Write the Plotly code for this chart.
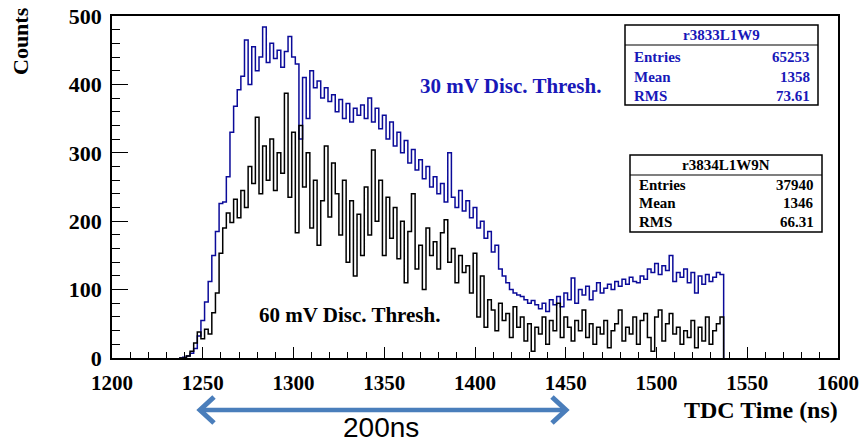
import numpy as np
import plotly.graph_objects as go

# ---------------- data ----------------
bin_start = 1237
bin_width = 2

counts_30mV = [
    0, 1, 3, 7, 14, 32, 55, 82, 112, 150,
    185, 226, 228, 265, 330, 368, 392, 412, 465, 400,
    455, 420, 440, 484, 432, 460, 438, 450, 425, 448,
    470, 440, 430, 320, 410, 350, 420, 395, 405, 380,
    395, 375, 385, 360, 378, 350, 372, 345, 365, 355,
    370, 350, 380, 345, 365, 335, 355, 320, 345, 310,
    330, 300, 318, 285, 305, 275, 290, 262, 280, 250,
    265, 240, 255, 228, 300, 235, 220, 245, 215, 230,
    205, 220, 190, 200, 175, 185, 155, 165, 130, 120,
    110, 100, 95, 92, 90, 85, 80, 84, 78, 72,
    80, 68, 85, 78, 90, 75, 95, 85, 117, 80,
    100, 92, 105, 85, 98, 110, 95, 102, 108, 100,
    112, 105, 115, 108, 118, 112, 110, 120, 115, 130,
    125, 138, 122, 135, 128, 150, 112, 125, 118, 130,
    110, 125, 95, 120, 108, 122, 112, 118, 125, 122,
]

counts_60mV = [
    0, 0, 3, 10, 22, 38, 28, 42, 35, 66,
    95, 153, 190, 212, 198, 232, 205, 245, 220, 280,
    255, 352, 240, 310, 260, 320, 245, 300, 270, 387,
    235, 330, 183, 340, 250, 300, 190, 260, 165, 230,
    310, 206, 285, 240, 180, 260, 140, 230, 120, 210,
    150, 250, 180, 304, 200, 260, 150, 235, 175, 220,
    145, 200, 110, 185, 240, 130, 165, 100, 190, 150,
    170, 130, 183, 202, 140, 160, 110, 150, 125, 135,
    95, 153, 60, 120, 45, 85, 70, 40, 80, 55,
    65, 30, 75, 45, 60, 25, 50, 10, 45, 35,
    60, 20, 55, 40, 80, 30, 60, 45, 25, 55,
    40, 70, 30, 50, 20, 45, 35, 55, 15, 40,
    50, 70, 25, 45, 35, 60, 20, 55, 65, 30,
    10, 60, 70, 25, 50, 65, 35, 45, 20, 40,
    30, 55, 15, 45, 25, 60, 20, 40, 50, 60,
]

x_ticks = [1200, 1250, 1300, 1350, 1400, 1450, 1500, 1550, 1600]
y_ticks = [0, 100, 200, 300, 400, 500]

stats_30 = {"name": "r3833L1W9", "Entries": "65253", "Mean": "1358", "RMS": "73.61"}
stats_60 = {"name": "r3834L1W9N", "Entries": "37940", "Mean": "1346", "RMS": "66.31"}

label_30 = "30 mV Disc. Thresh."
label_60 = "60 mV Disc. Thresh."
span_label = "200ns"

# ---------------- layout geometry (pixels) ----------------
W, H = 859, 444
L, R, T, B = 112, 838, 16, 358


def X(px):
    return (px - L) / (R - L)


def Y(py):
    return (B - py) / (B - T)


BLUE_LINE = "#0b0b99"
BLUE_TEXT = "#1818b8"
ARROW = "#4a7ebb"
SERIF = "Liberation Serif"


def step_xy(vals):
    edges = bin_start + bin_width * np.arange(len(vals) + 1)
    return list(edges), list(vals) + [0]


fig = go.Figure()
xb, yb = step_xy(counts_30mV)
fig.add_trace(go.Scatter(x=xb, y=yb, mode="lines", line=dict(shape="hv", color=BLUE_LINE, width=1.5),
                         showlegend=False, hoverinfo="skip"))
xk, yk = step_xy(counts_60mV)
fig.add_trace(go.Scatter(x=xk, y=yk, mode="lines", line=dict(shape="hv", color="black", width=1.5),
                         showlegend=False, hoverinfo="skip"))

ann = []
shapes = []

# axis titles
ann.append(dict(text="Counts", xref="paper", yref="paper", x=X(21), y=Y(41), textangle=-90,
                showarrow=False, xanchor="center", yanchor="middle",
                font=dict(family=SERIF, size=22, color="black", weight="bold")))
ann.append(dict(text="TDC Time (ns)", xref="paper", yref="paper", x=X(840), y=Y(410),
                showarrow=False, xanchor="right", yanchor="middle",
                font=dict(family=SERIF, size=24, color="black", weight="bold")))

# curve labels
ann.append(dict(text=label_30, xref="paper", yref="paper", x=X(511), y=Y(86),
                showarrow=False, xanchor="center", yanchor="middle",
                font=dict(family=SERIF, size=21, color=BLUE_TEXT, weight="bold")))
ann.append(dict(text=label_60, xref="paper", yref="paper", x=X(349), y=Y(315),
                showarrow=False, xanchor="center", yanchor="middle",
                font=dict(family=SERIF, size=21, color="black", weight="bold")))


def stat_box(st, x0, x1, y0, y1, ydiv, rows_y, color):
    shapes.append(dict(type="rect", xref="paper", yref="paper", x0=X(x0), x1=X(x1), y0=Y(y0), y1=Y(y1),
                       line=dict(color="black", width=1.5), fillcolor="white", layer="above"))
    shapes.append(dict(type="line", xref="paper", yref="paper", x0=X(x0), x1=X(x1), y0=Y(ydiv), y1=Y(ydiv),
                       line=dict(color="black", width=1.2), layer="above"))
    ann.append(dict(text=st["name"], xref="paper", yref="paper", x=X((x0 + x1) / 2), y=Y((y0 + ydiv) / 2),
                    showarrow=False, xanchor="center", yanchor="middle",
                    font=dict(family=SERIF, size=15, color=color, weight="bold")))
    for key, yy in zip(["Entries", "Mean", "RMS"], rows_y):
        ann.append(dict(text=key, xref="paper", yref="paper", x=X(x0 + 7), y=Y(yy),
                        showarrow=False, xanchor="left", yanchor="middle",
                        font=dict(family=SERIF, size=15, color=color, weight="bold")))
        ann.append(dict(text=st[key], xref="paper", yref="paper", x=X(x1 - 6), y=Y(yy),
                        showarrow=False, xanchor="right", yanchor="middle",
                        font=dict(family=SERIF, size=15, color=color, weight="bold")))


stat_box(stats_30, 625, 818, 25, 105, 45, [57, 77, 96], BLUE_TEXT)
stat_box(stats_60, 630, 822, 155, 232, 175, [185, 203, 222], "black")

# 200 ns double arrow: shaft + open chevron heads
ax0, ax1, ay = 200, 566, 410
shapes.append(dict(type="line", xref="paper", yref="paper", x0=X(ax0 + 2), x1=X(ax1 - 2), y0=Y(ay), y1=Y(ay),
                   line=dict(color=ARROW, width=4.5)))
hl, hh = 14, 13
shapes.append(dict(type="path", xref="paper", yref="paper",
                   path=f"M {X(ax0 + hl)},{Y(ay - hh)} L {X(ax0)},{Y(ay)} L {X(ax0 + hl)},{Y(ay + hh)}",
                   line=dict(color=ARROW, width=5)))
shapes.append(dict(type="path", xref="paper", yref="paper",
                   path=f"M {X(ax1 - hl)},{Y(ay - hh)} L {X(ax1)},{Y(ay)} L {X(ax1 - hl)},{Y(ay + hh)}",
                   line=dict(color=ARROW, width=5)))
ann.append(dict(text=span_label, xref="paper", yref="paper", x=X(381), y=Y(445),
                showarrow=False, xanchor="center", yanchor="bottom",
                font=dict(family="Liberation Sans", size=28, color="black")))

x_font = dict(family=SERIF, size=21, color="black", weight="bold")
y_font = dict(family=SERIF, size=22, color="black", weight="bold")
fig.update_layout(
    width=W, height=H,
    margin=dict(l=L, r=W - R, t=T, b=H - B, pad=0, autoexpand=False),
    paper_bgcolor="white", plot_bgcolor="white",
    xaxis=dict(range=[1200, 1600], tickvals=x_ticks, ticktext=[str(v) for v in x_ticks],
               ticks="inside", ticklen=11, tickwidth=1.2, tickcolor="black",
               minor=dict(dtick=10, tick0=1200, ticks="inside", ticklen=6, tickwidth=1.2, tickcolor="black"),
               showline=True, linecolor="black", linewidth=1.5, mirror=True, automargin=False,
               showgrid=False, zeroline=False, tickfont=x_font, ticklabelstandoff=5),
    yaxis=dict(range=[0, 500], tickvals=y_ticks, ticktext=[str(v) for v in y_ticks],
               ticks="inside", ticklen=16, tickwidth=1.2, tickcolor="black",
               minor=dict(dtick=20, tick0=0, ticks="inside", ticklen=8, tickwidth=1.2, tickcolor="black"),
               showline=True, linecolor="black", linewidth=1.5, mirror=True, automargin=False,
               showgrid=False, zeroline=False, tickfont=y_font, ticklabelstandoff=4),
    annotations=ann,
    shapes=shapes,
)

# remove the default 8px page margin so the figure sits at the window's top-left corner
fig.write_html("out.html", config={"displayModeBar": False},
               post_script="document.body.style.margin='0px';")
